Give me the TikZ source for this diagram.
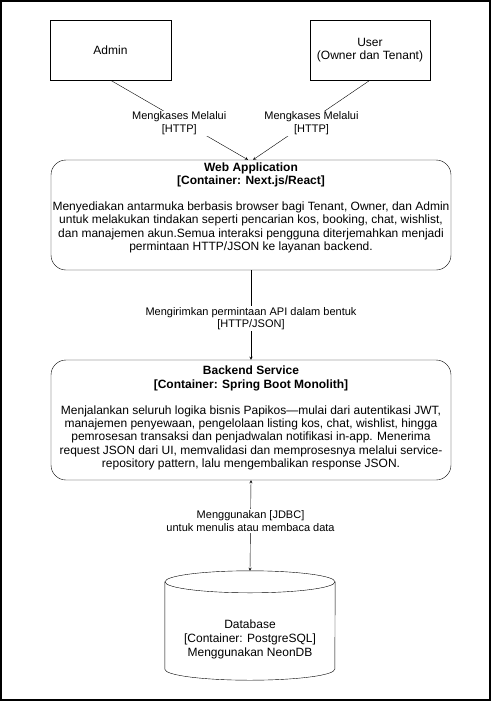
\documentclass[tikz,border=0pt]{standalone}
\usepackage{fontspec}
\setmainfont{Liberation Sans}
\begin{document}
\begin{tikzpicture}[x=1pt, y=-1pt, >=stealth, font=\fontsize{12}{13.2}\selectfont]

    \useasboundingbox (0,0) rectangle (492,702);
    \draw[line width=1.5pt] (1,1) rectangle (490,700);

        % Define nodes for the users (top row)
        \node[draw, rectangle, minimum width=121pt, minimum height=60pt] (admin) at (110.5,50) {Admin};
        \node[draw, rectangle, minimum width=120pt, minimum height=60pt, align=center] (user) at (370,50) {User\\(Owner dan Tenant)};

        % Define the web application container (middle)
        \node[draw, rectangle, rounded corners=15pt, minimum width=400pt, minimum height=110pt] (webapp) at (251,215) {};
        \node[align=center] (webtext) at (251,207.5) {\textbf{Web Application}\\
            \textbf{[Container: Next.js/React]}\\[13.2pt]
            Menyediakan antarmuka berbasis browser bagi Tenant, Owner, dan Admin\\
            untuk melakukan tindakan seperti pencarian kos, booking, chat, wishlist,\\
            dan manajemen akun.Semua interaksi pengguna diterjemahkan menjadi\\
            permintaan HTTP/JSON ke layanan backend.};

        % Define the backend container
        \node[draw, rectangle, rounded corners=15pt, minimum width=400pt, minimum height=120pt] (backend) at (251,420) {};
        \node[align=center] (backtext) at (251,418) {\textbf{Backend Service}\\
            \textbf{[Container: Spring Boot Monolith]}\\[13.2pt]
            Menjalankan seluruh logika bisnis Papikos---mulai dari autentikasi JWT,\\
            manajemen penyewaan, pengelolaan listing kos, chat, wishlist, hingga\\
            pemrosesan transaksi dan penjadwalan notifikasi in-app. Menerima\\
            request JSON dari UI, memvalidasi dan memprosesnya melalui service-\\
            repository pattern, lalu mengembalikan response JSON.};

        % Define the database (bottom), cylinder drawn round the node
        \node[minimum width=170pt, minimum height=109pt, inner sep=0pt] (database) at (250,625.5) {};
        \draw ([yshift=-11pt]database.north west) -- ([yshift=11pt]database.south west)
            arc[start angle=180, end angle=360, x radius=85pt, y radius=11pt]
            -- ([yshift=-11pt]database.north east);
        \draw ([yshift=-11pt]database.north) ellipse [x radius=85pt, y radius=11pt];
        \node[align=center, font=\fontsize{12}{14}\selectfont] (dbtext) at (250,639) {Database\\{[Container: PostgreSQL]}\\Menggunakan NeonDB};

        % Draw arrows from the users to the web application
        \draw[->] (admin.south) -- node[yshift=-3.5pt, fill=white, inner sep=1pt, align=center, font=\fontsize{11}{13}\selectfont] (adminlabel) {Mengkases Melalui\\{[HTTP]}} ([xshift=-3pt]webapp.north);
        \draw[->] (user.south) -- node[yshift=-3.5pt, fill=white, inner sep=1pt, align=center, font=\fontsize{11}{13}\selectfont] (userlabel) {Mengkases Melalui\\{[HTTP]}} ([xshift=2pt]webapp.north);

        % Draw arrows between the containers
        \draw[->] (webapp.south) -- node[pos=0.54, fill=white, inner sep=1pt, align=center, font=\fontsize{11}{12.5}\selectfont] (apilabel) {Mengirimkan permintaan API dalam bentuk\\{[HTTP/JSON]}} (backend.north);
        \draw[<->] (backend.south) -- node[pos=0.45, fill=white, inner sep=1pt, align=center, font=\fontsize{11}{13}\selectfont] (jdbclabel) {Menggunakan [JDBC]\\untuk menulis atau membaca data} (database.north);

    \end{tikzpicture}
\end{document}
